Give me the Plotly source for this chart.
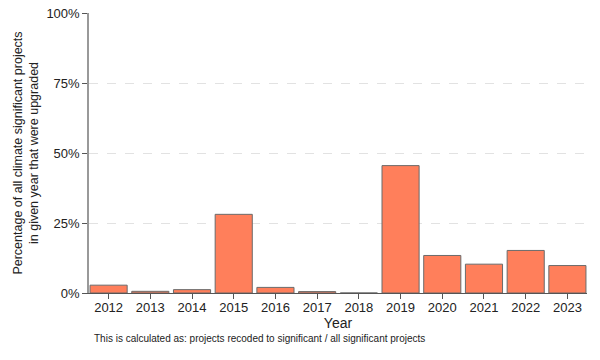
import plotly.graph_objects as go

years = ["2012", "2013", "2014", "2015", "2016", "2017", "2018", "2019", "2020", "2021", "2022", "2023"]
pct_upgraded = [2.8, 0.6, 1.2, 28.1, 2.0, 0.5, 0.0, 45.5, 13.4, 10.3, 15.2, 9.8]
y_tick_vals = [0, 25, 50, 75, 100]
y_tick_text = ["0%", "25%", "50%", "75%", "100%"]

fig = go.Figure()
fig.add_trace(go.Bar(
    x=years, y=pct_upgraded,
    marker=dict(color="#FF7F5B", line=dict(color="#6b6b6b", width=1)),
    width=0.89,
))

font = "Liberation Sans, Arial, sans-serif"
fig.update_layout(
    width=600, height=360,
    margin=dict(l=89, r=13, t=13, b=67),
    plot_bgcolor="white", paper_bgcolor="white",
    font=dict(family=font, size=13, color="#222222"),
    showlegend=False,
    bargap=0.11,
)
fig.update_xaxes(
    type="category",
    range=[-0.47, 11.47],
    automargin=False,
    showline=True, linecolor="#555555", linewidth=1,
    ticks="outside", ticklen=5, tickcolor="#555555",
    ticklabelstandoff=-3,
    ticklabeloverflow="allow",
    showgrid=False,
    title=dict(text="Year", font=dict(size=14), standoff=0),
    tickfont=dict(size=13),
)
fig.update_yaxes(
    range=[0, 100.01],
    automargin=False,
    tickvals=y_tick_vals, ticktext=y_tick_text,
    showline=True, linecolor="#999999", linewidth=1.5,
    ticks="outside", ticklen=5, tickcolor="#555555",
    ticklabeloverflow="allow",
    showgrid=True, gridcolor="#e2e2e2", griddash="dash", gridwidth=1,
    zeroline=False,
    title=dict(text="Percentage of all climate significant projects<br>in given year that were upgraded",
               font=dict(size=12.5), standoff=5),
    tickfont=dict(size=13),
)
fig.add_annotation(
    text="This is calculated as: projects recoded to significant / all significant projects",
    xref="paper", yref="paper", x=0.006, y=-0.137, xanchor="left", yanchor="top",
    showarrow=False, font=dict(size=10, color="#222222"),
)
fig.write_html("out.html", config={"displayModeBar": False},
               post_script="document.body.style.margin='0';")
